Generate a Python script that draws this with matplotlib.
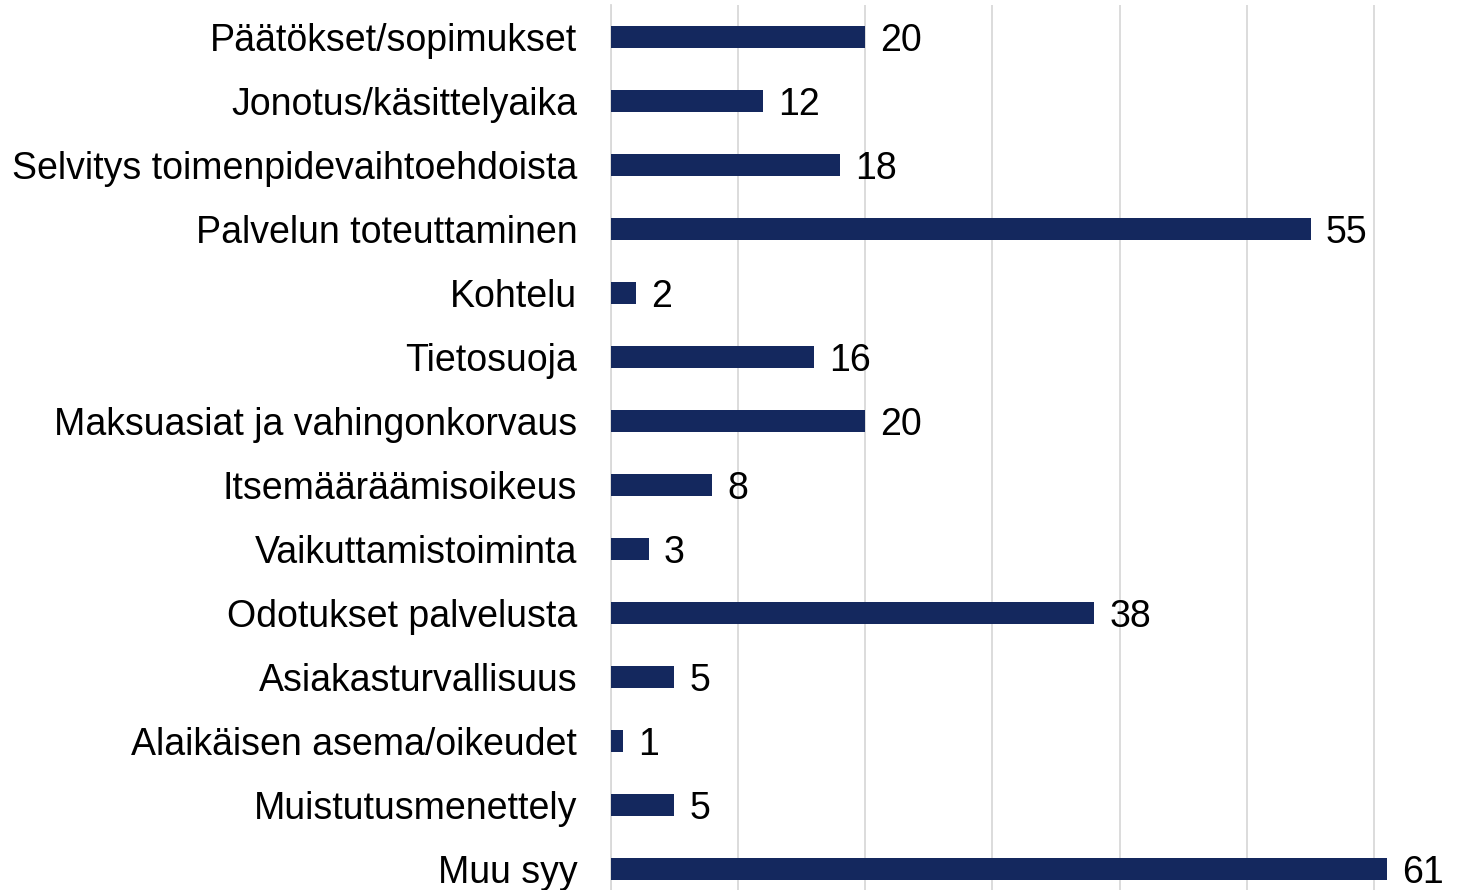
import matplotlib
matplotlib.use('Agg')
import matplotlib.pyplot as plt

plt.rcParams['font.family'] = ['Liberation Sans', 'DejaVu Sans']

# Data (top to bottom)
categories = ['Päätökset/sopimukset', 'Jonotus/käsittelyaika', 'Selvitys toimenpidevaihtoehdoista',
              'Palvelun toteuttaminen', 'Kohtelu', 'Tietosuoja', 'Maksuasiat ja vahingonkorvaus',
              'Itsemääräämisoikeus', 'Vaikuttamistoiminta', 'Odotukset palvelusta',
              'Asiakasturvallisuus', 'Alaikäisen asema/oikeudet', 'Muistutusmenettely', 'Muu syy']
values = [20, 12, 18, 55, 2, 16, 20, 8, 3, 38, 5, 1, 5, 61]

W, H = 1483, 890
fig = plt.figure(figsize=(W / 100, H / 100), dpi=100)
left = 610.5 / W
ax = fig.add_axes([left, 0, 1 - left, 1 - 5 / H])

pos = list(range(len(categories)))
ax.barh(pos, values, height=0.35, color='#14285E', zorder=3)

for p, v in zip(pos, values):
    ax.text(v + 1.2, p, str(v), va='center_baseline', ha='left', fontsize=27, color='black')

ax.set_xlim(0, (W - 610.5) / 12.73)
ax.set_ylim(13 + (890 - 869) / 64, -0.5)
ax.set_xticks([0, 10, 20, 30, 40, 50, 60])
ax.xaxis.grid(True, color='#D9D9D9', linewidth=1.3, zorder=0)
ax.tick_params(axis='x', length=0, labelbottom=False)
ax.tick_params(axis='y', length=0, pad=24, labelsize=27)
ax.set_yticks(pos)
ax.set_yticklabels(categories)
for s in ['top', 'right', 'bottom']:
    ax.spines[s].set_visible(False)
ax.spines['left'].set_color('#D9D9D9')
ax.spines['left'].set_linewidth(1.3)

fig.savefig('out.png', dpi=100)
